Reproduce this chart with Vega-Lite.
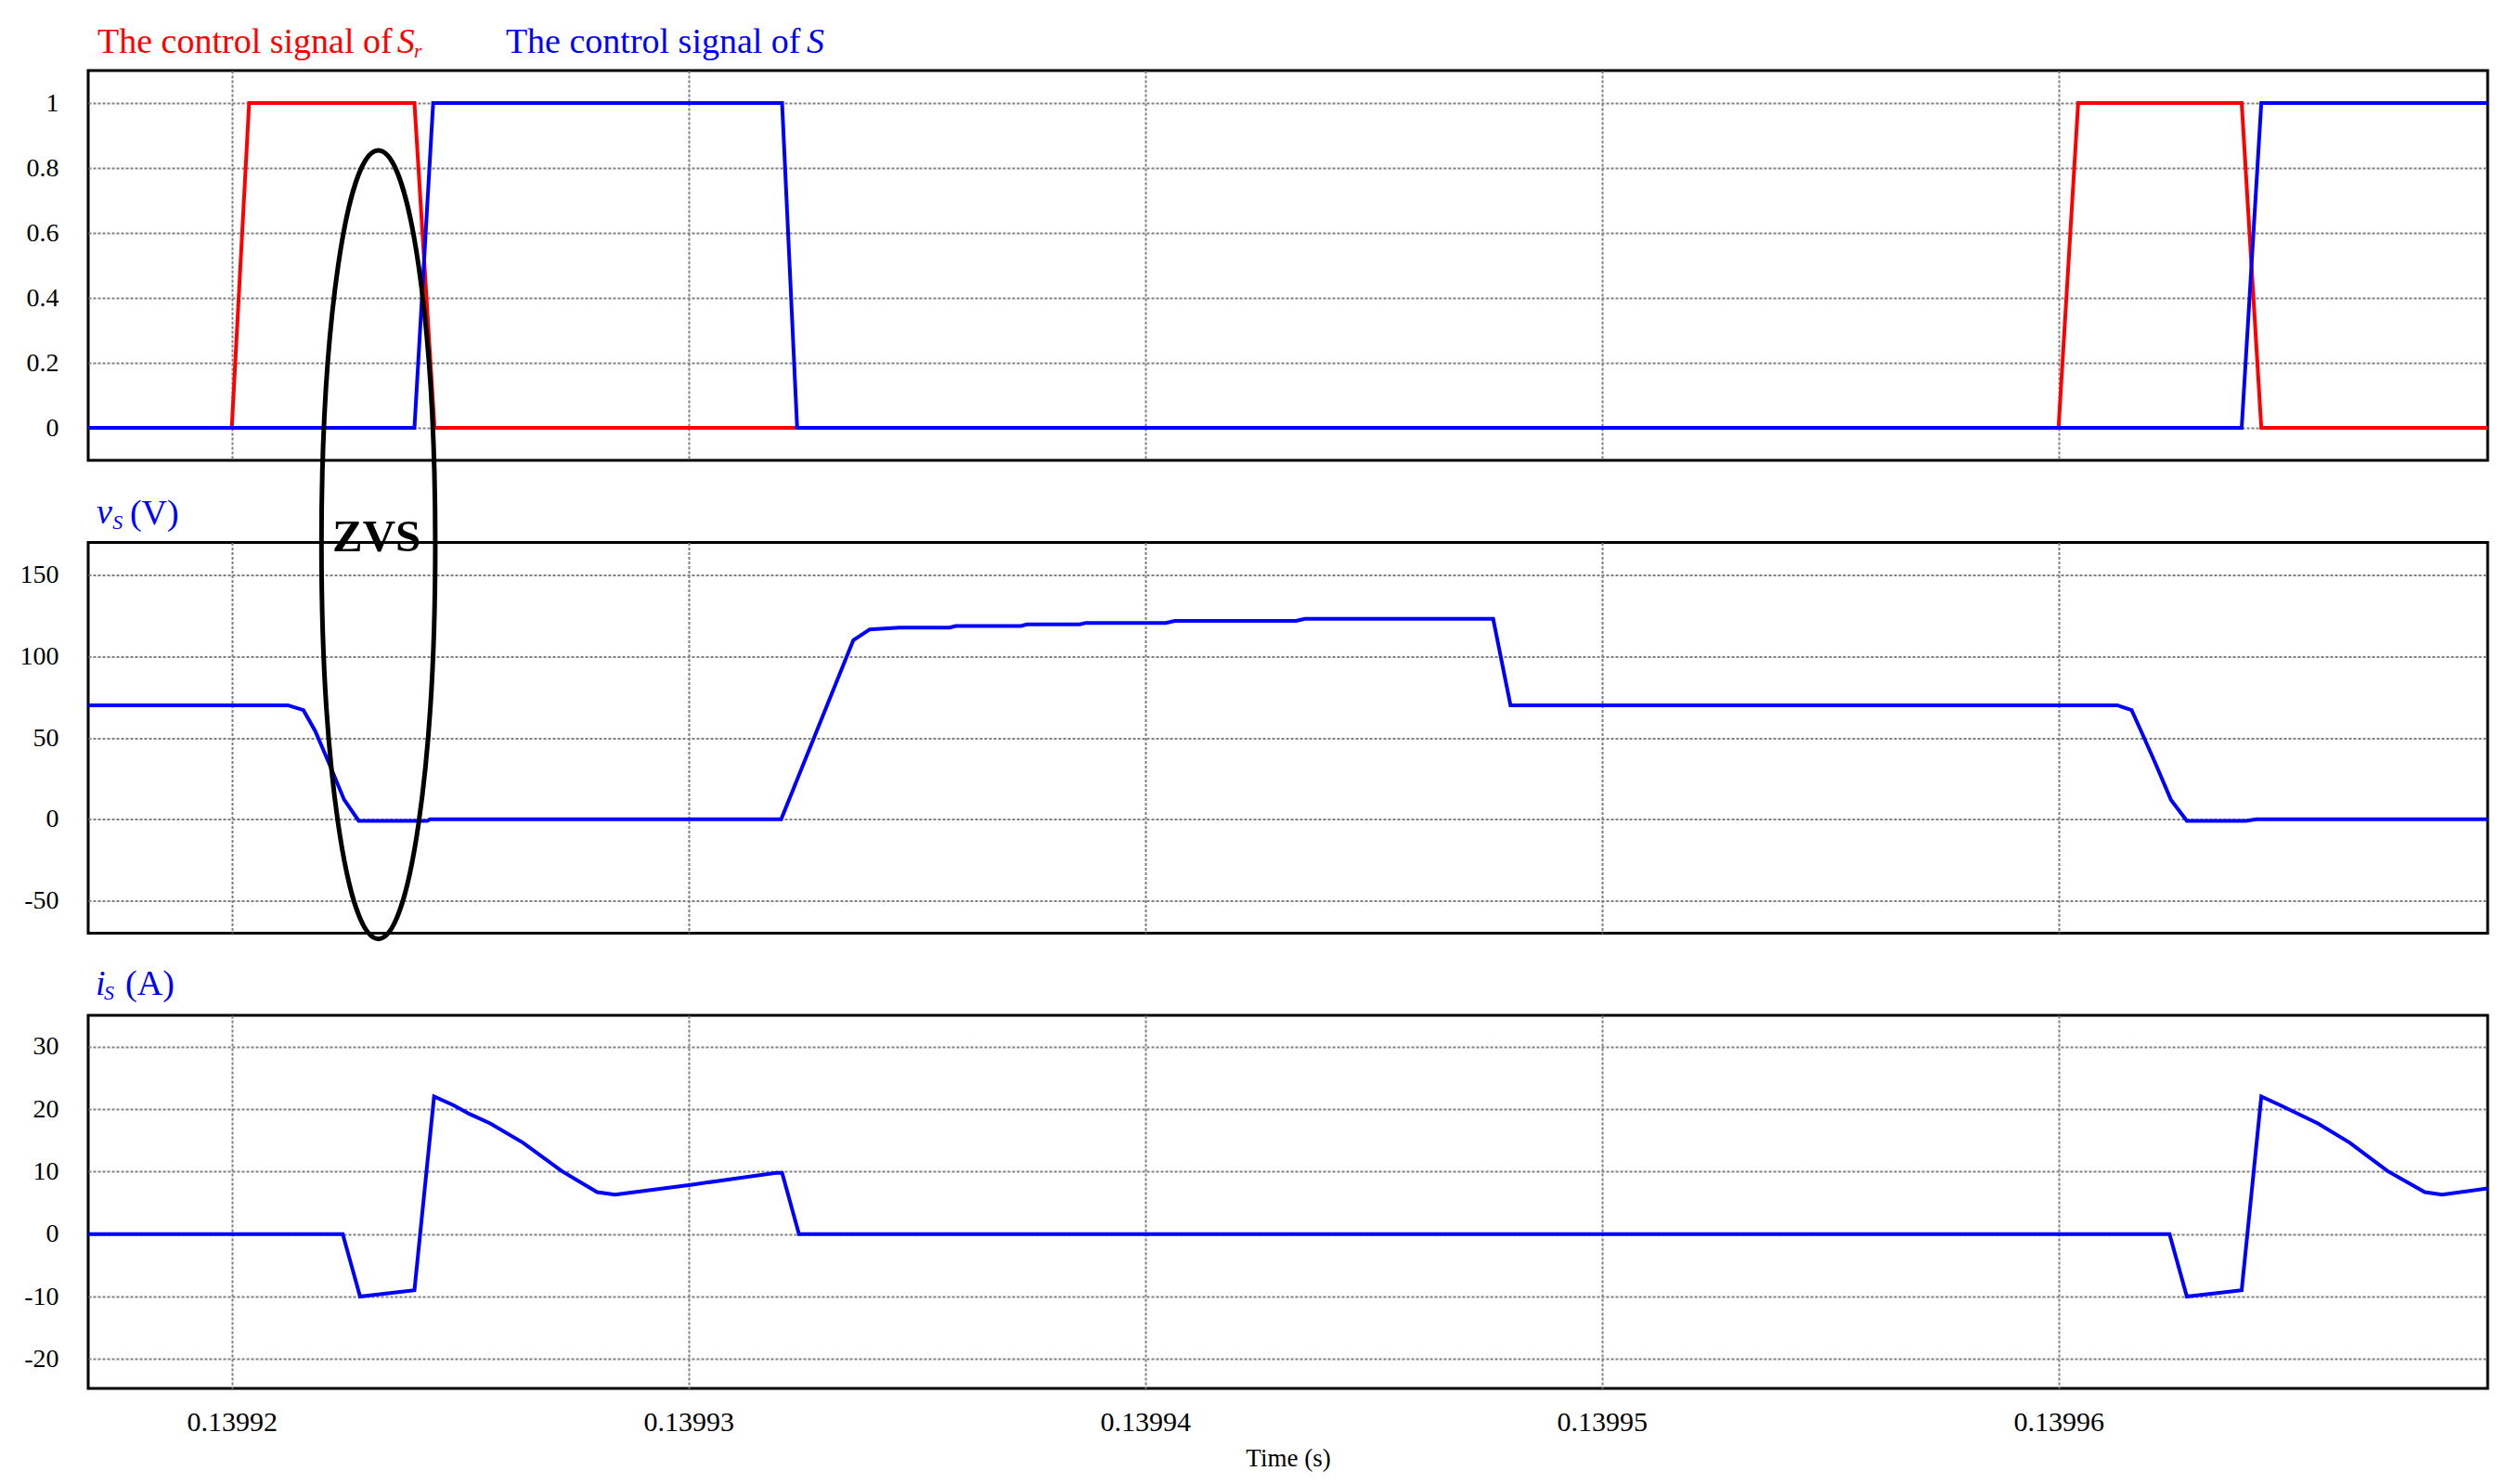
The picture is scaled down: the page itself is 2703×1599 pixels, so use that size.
{
  "$schema": "https://vega.github.io/schema/vega-lite/v6.json",
  "background": "white",
  "padding": {"left": 19, "top": 25, "right": 0, "bottom": 0},
  "autosize": {"type": "pad"},
  "bounds": "flush",
  "spacing": 88.5,
  "resolve": {"scale": {"y": "independent"}},
  "datasets": {
    "one": [{"k": 1}],
    "sr": [
      {"t": 0.13991686, "v": 0}, {"t": 0.13992000, "v": 0}, {"t": 0.13992038, "v": 1},
      {"t": 0.13992400, "v": 1}, {"t": 0.13992444, "v": 0}, {"t": 0.13996000, "v": 0},
      {"t": 0.13996043, "v": 1}, {"t": 0.13996401, "v": 1}, {"t": 0.13996444, "v": 0},
      {"t": 0.13996940, "v": 0}
    ],
    "s": [
      {"t": 0.13991686, "v": 0}, {"t": 0.13992400, "v": 0}, {"t": 0.13992441, "v": 1},
      {"t": 0.13993205, "v": 1}, {"t": 0.13993238, "v": 0}, {"t": 0.13996401, "v": 0},
      {"t": 0.13996444, "v": 1}, {"t": 0.13996940, "v": 1}
    ],
    "vs": [
      {"t": 0.13991686, "v": 70}, {"t": 0.13992123, "v": 70}, {"t": 0.13992157, "v": 67},
      {"t": 0.13992183, "v": 54}, {"t": 0.13992212, "v": 35}, {"t": 0.13992246, "v": 12},
      {"t": 0.13992278, "v": -1}, {"t": 0.13992428, "v": -1}, {"t": 0.13992434, "v": 0},
      {"t": 0.13993203, "v": 0}, {"t": 0.13993361, "v": 110}, {"t": 0.13993397, "v": 116.6},
      {"t": 0.13993462, "v": 117.7}, {"t": 0.13993572, "v": 117.7}, {"t": 0.13993585, "v": 118.7},
      {"t": 0.13993728, "v": 118.7}, {"t": 0.13993741, "v": 119.7}, {"t": 0.13993857, "v": 119.7},
      {"t": 0.13993870, "v": 120.6}, {"t": 0.13994045, "v": 120.6}, {"t": 0.13994065, "v": 121.8},
      {"t": 0.13994330, "v": 121.8}, {"t": 0.13994350, "v": 123.1}, {"t": 0.13994762, "v": 123.1},
      {"t": 0.13994800, "v": 70}, {"t": 0.13996129, "v": 70}, {"t": 0.13996160, "v": 67},
      {"t": 0.13996181, "v": 54}, {"t": 0.13996211, "v": 35}, {"t": 0.13996246, "v": 12},
      {"t": 0.13996281, "v": -1}, {"t": 0.13996410, "v": -1}, {"t": 0.13996433, "v": 0},
      {"t": 0.13996940, "v": 0}
    ],
    "is": [
      {"t": 0.13991686, "v": 0}, {"t": 0.13992243, "v": 0}, {"t": 0.13992281, "v": -10},
      {"t": 0.13992400, "v": -9}, {"t": 0.13992443, "v": 22}, {"t": 0.13992486, "v": 20.6},
      {"t": 0.13992521, "v": 19.2}, {"t": 0.13992566, "v": 17.7}, {"t": 0.13992638, "v": 14.6},
      {"t": 0.13992722, "v": 10.1}, {"t": 0.13992800, "v": 6.7}, {"t": 0.13992839, "v": 6.3},
      {"t": 0.13993008, "v": 7.9}, {"t": 0.13993094, "v": 8.8}, {"t": 0.13993192, "v": 9.8},
      {"t": 0.13993205, "v": 9.8}, {"t": 0.13993242, "v": 0}, {"t": 0.13996243, "v": 0},
      {"t": 0.13996281, "v": -10}, {"t": 0.13996401, "v": -9}, {"t": 0.13996444, "v": 22},
      {"t": 0.13996486, "v": 20.6}, {"t": 0.13996568, "v": 17.7}, {"t": 0.13996638, "v": 14.6},
      {"t": 0.13996720, "v": 10.1}, {"t": 0.13996802, "v": 6.7}, {"t": 0.13996840, "v": 6.3},
      {"t": 0.13996940, "v": 7.3}
    ]
  },
  "vconcat": [
    {
      "width": 2585,
      "height": 420,
      "layer": [
        {
          "data": {"name": "sr"},
          "mark": {"type": "line", "color": "#ff0000", "strokeWidth": 4, "clip": true},
          "encoding": {
            "x": {"field": "t", "type": "quantitative",
                  "scale": {"domain": [0.139916856, 0.139969396], "nice": false, "zero": false},
                  "axis": {"values": [0.13992, 0.13993, 0.13994, 0.13995, 0.13996], "labels": false, "title": null}},
            "y": {"field": "v", "type": "quantitative",
                  "scale": {"domain": [-0.1, 1.1], "nice": false, "zero": false},
                  "axis": {"values": [0, 0.2, 0.4, 0.6, 0.8, 1], "labelExpr": "toString(datum.value)", "title": null}}
          }
        },
        {
          "data": {"name": "s"},
          "mark": {"type": "line", "color": "#0000ff", "strokeWidth": 4, "clip": true},
          "encoding": {
            "x": {"field": "t", "type": "quantitative"},
            "y": {"field": "v", "type": "quantitative"}
          }
        },
        {
          "data": {"name": "one"},
          "mark": {"type": "text", "text": "The control signal of", "align": "left", "baseline": "alphabetic", "fontSize": 38, "color": "#ff0000"},
          "encoding": {"x": {"datum": 0.13991706, "type": "quantitative"}, "y": {"datum": 1.1543, "type": "quantitative"}}
        },
        {
          "data": {"name": "one"},
          "mark": {"type": "text", "text": "S", "align": "left", "baseline": "alphabetic", "fontSize": 38, "fontStyle": "italic", "color": "#ff0000"},
          "encoding": {"x": {"datum": 0.13992362, "type": "quantitative"}, "y": {"datum": 1.1543, "type": "quantitative"}}
        },
        {
          "data": {"name": "one"},
          "mark": {"type": "text", "text": "r", "align": "left", "baseline": "alphabetic", "fontSize": 22, "fontStyle": "italic", "color": "#ff0000"},
          "encoding": {"x": {"datum": 0.13992399, "type": "quantitative"}, "y": {"datum": 1.14, "type": "quantitative"}}
        },
        {
          "data": {"name": "one"},
          "mark": {"type": "text", "text": "The control signal of", "align": "left", "baseline": "alphabetic", "fontSize": 38, "color": "#0000ff"},
          "encoding": {"x": {"datum": 0.13992600, "type": "quantitative"}, "y": {"datum": 1.1543, "type": "quantitative"}}
        },
        {
          "data": {"name": "one"},
          "mark": {"type": "text", "text": "S", "align": "left", "baseline": "alphabetic", "fontSize": 38, "fontStyle": "italic", "color": "#0000ff"},
          "encoding": {"x": {"datum": 0.13993259, "type": "quantitative"}, "y": {"datum": 1.1543, "type": "quantitative"}}
        }
      ]
    },
    {
      "width": 2585,
      "height": 421,
      "layer": [
        {
          "data": {"name": "vs"},
          "mark": {"type": "line", "color": "#0000ff", "strokeWidth": 4, "clip": true},
          "encoding": {
            "x": {"field": "t", "type": "quantitative",
                  "scale": {"domain": [0.139916856, 0.139969396], "nice": false, "zero": false},
                  "axis": {"values": [0.13992, 0.13993, 0.13994, 0.13995, 0.13996], "labels": false, "title": null}},
            "y": {"field": "v", "type": "quantitative",
                  "scale": {"domain": [-70, 170], "nice": false, "zero": false},
                  "axis": {"values": [-50, 0, 50, 100, 150], "labelExpr": "toString(datum.value)", "title": null}}
          }
        },
        {
          "data": {"name": "one"},
          "mark": {"type": "text", "text": "v", "align": "left", "baseline": "alphabetic", "fontSize": 38, "fontStyle": "italic", "color": "#0000ff"},
          "encoding": {"x": {"datum": 0.13991704, "type": "quantitative"}, "y": {"datum": 181.7, "type": "quantitative"}}
        },
        {
          "data": {"name": "one"},
          "mark": {"type": "text", "text": "S", "align": "left", "baseline": "alphabetic", "fontSize": 22, "fontStyle": "italic", "color": "#0000ff"},
          "encoding": {"x": {"datum": 0.13991739, "type": "quantitative"}, "y": {"datum": 178.3, "type": "quantitative"}}
        },
        {
          "data": {"name": "one"},
          "mark": {"type": "text", "text": "(V)", "align": "left", "baseline": "alphabetic", "fontSize": 38, "color": "#0000ff"},
          "encoding": {"x": {"datum": 0.13991777, "type": "quantitative"}, "y": {"datum": 181.1, "type": "quantitative"}}
        },
        {
          "data": {"name": "one"},
          "mark": {"type": "point", "shape": "M -0.1443 0 A 0.1443 1 0 1 0 0.1443 0 A 0.1443 1 0 1 0 -0.1443 0 Z", "size": 722000, "filled": false, "color": "#000000", "strokeWidth": 5, "opacity": 1},
          "encoding": {"x": {"datum": 0.13992321, "type": "quantitative"}, "y": {"datum": 168.66, "type": "quantitative"}}
        },
        {
          "data": {"name": "one"},
          "mark": {"type": "text", "text": "ZVS", "align": "center", "baseline": "alphabetic", "fontSize": 49, "fontWeight": "bold", "color": "#000000"},
          "encoding": {"x": {"datum": 0.13992317, "type": "quantitative"}, "y": {"datum": 164.6, "type": "quantitative"}}
        }
      ]
    },
    {
      "width": 2585,
      "height": 402,
      "layer": [
        {
          "data": {"name": "is"},
          "mark": {"type": "line", "color": "#0000ff", "strokeWidth": 4, "clip": true},
          "encoding": {
            "x": {"field": "t", "type": "quantitative",
                  "scale": {"domain": [0.139916856, 0.139969396], "nice": false, "zero": false},
                  "axis": {"values": [0.13992, 0.13993, 0.13994, 0.13995, 0.13996], "format": ".5f", "title": "Time (s)", "labelFlush": false}},
            "y": {"field": "v", "type": "quantitative",
                  "scale": {"domain": [-24.7, 35], "nice": false, "zero": false},
                  "axis": {"values": [-20, -10, 0, 10, 20, 30], "labelExpr": "toString(datum.value)", "title": null}}
          }
        },
        {
          "data": {"name": "one"},
          "mark": {"type": "text", "text": "i", "align": "left", "baseline": "alphabetic", "fontSize": 38, "fontStyle": "italic", "color": "#0000ff"},
          "encoding": {"x": {"datum": 0.13991702, "type": "quantitative"}, "y": {"datum": 38.27, "type": "quantitative"}}
        },
        {
          "data": {"name": "one"},
          "mark": {"type": "text", "text": "S", "align": "left", "baseline": "alphabetic", "fontSize": 22, "fontStyle": "italic", "color": "#0000ff"},
          "encoding": {"x": {"datum": 0.13991720, "type": "quantitative"}, "y": {"datum": 37.52, "type": "quantitative"}}
        },
        {
          "data": {"name": "one"},
          "mark": {"type": "text", "text": "(A)", "align": "left", "baseline": "alphabetic", "fontSize": 38, "color": "#0000ff"},
          "encoding": {"x": {"datum": 0.13991767, "type": "quantitative"}, "y": {"datum": 38.27, "type": "quantitative"}}
        }
      ]
    }
  ],
  "config": {
    "view": {"stroke": "#000000", "strokeWidth": 3},
    "font": "Liberation Serif",
    "axis": {
      "domain": false, "ticks": false, "tickSize": 0, "grid": true,
      "gridColor": "#808080", "gridDash": [3, 2], "gridWidth": 2, "gridOpacity": 1,
      "labelFont": "Liberation Serif", "labelColor": "#000000",
      "titleFont": "Liberation Serif", "titleColor": "#000000", "titleFontWeight": "normal"
    },
    "axisY": {"labelFontSize": 28, "labelPadding": 32},
    "axisX": {"labelFontSize": 30, "labelPadding": 21, "titleFontSize": 27, "titlePadding": 11},
    "text": {"font": "Liberation Serif"}
  }
}
